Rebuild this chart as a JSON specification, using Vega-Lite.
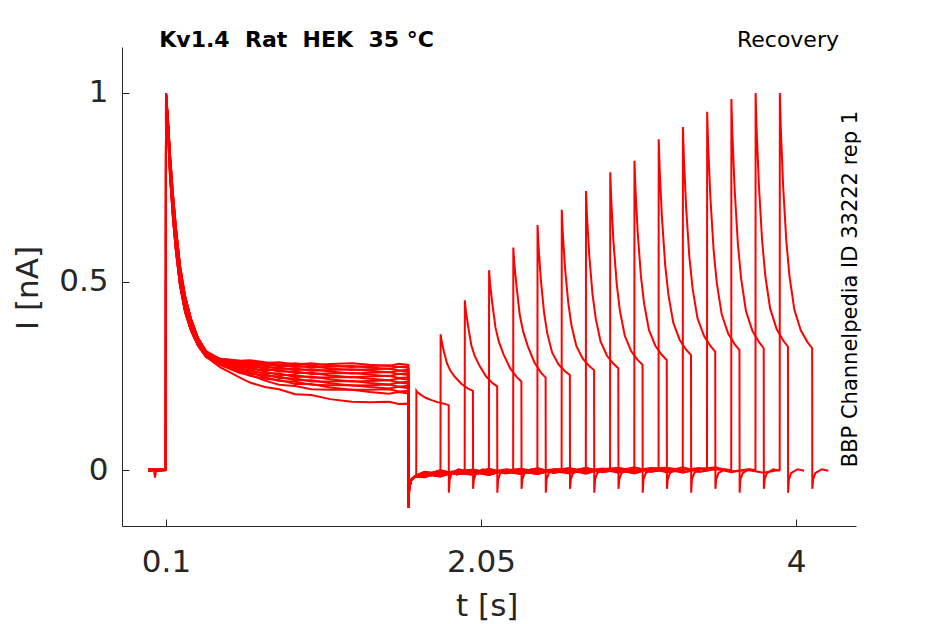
{
  "$schema": "https://vega.github.io/schema/vega-lite/v6.json",
  "width": 734,
  "height": 479,
  "autosize": {"type": "none"},
  "padding": {"left": 122, "top": 47, "right": 89, "bottom": 98},
  "background": "white",
  "config": {"view": {"stroke": null}, "font": "DejaVu Sans"},
  "layer": [
    {
      "data": {"values": [
        {"s":0,"t":-0.01,"i":0.002},{"s":0,"t":0.028,"i":0.0},{"s":0,"t":0.032,"i":-0.02},{"s":0,"t":0.036,"i":-0.002},{"s":0,"t":0.05,"i":0.001},{"s":0,"t":0.099,"i":0.0},
        {"s":0,"t":0.1,"i":1.0},{"s":0,"t":0.112,"i":0.9},{"s":0,"t":0.125,"i":0.78},{"s":0,"t":0.143,"i":0.67},{"s":0,"t":0.162,"i":0.58},{"s":0,"t":0.187,"i":0.49},{"s":0,"t":0.218,"i":0.42},{"s":0,"t":0.255,"i":0.37},{"s":0,"t":0.298,"i":0.33},{"s":0,"t":0.348,"i":0.3},
        {"s":0,"t":0.434,"i":0.273},{"s":0,"t":0.558,"i":0.245},{"s":0,"t":0.713,"i":0.22},{"s":0,"t":0.8,"i":0.214},{"s":0,"t":0.899,"i":0.201},{"s":0,"t":1.115,"i":0.188},{"s":0,"t":1.25,"i":0.181},{"s":0,"t":1.363,"i":0.18},{"s":0,"t":1.48,"i":0.181},{"s":0,"t":1.6,"i":0.176},
        {"s":0,"t":1.601,"i":-0.1},{"s":0,"t":1.606,"i":-0.045},{"s":0,"t":1.62,"i":-0.025},{"s":0,"t":1.64,"i":-0.017},
        {"s":0,"t":1.649,"i":-0.015},
        {"s":0,"t":1.65,"i":0.21},{"s":0,"t":1.656,"i":0.206},{"s":0,"t":1.67,"i":0.202},{"s":0,"t":1.69,"i":0.196},{"s":0,"t":1.71,"i":0.191},{"s":0,"t":1.74,"i":0.186},{"s":0,"t":1.78,"i":0.18},{"s":0,"t":1.82,"i":0.176},{"s":0,"t":1.85,"i":0.172},
        {"s":0,"t":1.851,"i":-0.06},{"s":0,"t":1.856,"i":-0.025},{"s":0,"t":1.87,"i":-0.008},{"s":0,"t":1.91,"i":0.002},{"s":0,"t":1.95,"i":-0.002},

        {"s":1,"t":-0.01,"i":-0.002},{"s":1,"t":0.028,"i":0.001},{"s":1,"t":0.032,"i":-0.018},{"s":1,"t":0.036,"i":0.0},{"s":1,"t":0.05,"i":-0.001},{"s":1,"t":0.099,"i":0.0},
        {"s":1,"t":0.1,"i":0.995},{"s":1,"t":0.112,"i":0.92},{"s":1,"t":0.125,"i":0.81},{"s":1,"t":0.143,"i":0.7},{"s":1,"t":0.162,"i":0.61},{"s":1,"t":0.187,"i":0.515},{"s":1,"t":0.218,"i":0.44},{"s":1,"t":0.255,"i":0.385},{"s":1,"t":0.298,"i":0.34},{"s":1,"t":0.348,"i":0.307},
        {"s":1,"t":0.434,"i":0.279},{"s":1,"t":0.558,"i":0.257},{"s":1,"t":0.713,"i":0.237},{"s":1,"t":0.8,"i":0.226},{"s":1,"t":0.899,"i":0.223},{"s":1,"t":1.115,"i":0.213},{"s":1,"t":1.25,"i":0.213},{"s":1,"t":1.363,"i":0.207},{"s":1,"t":1.48,"i":0.202},{"s":1,"t":1.6,"i":0.203},
        {"s":1,"t":1.601,"i":-0.075},{"s":1,"t":1.606,"i":-0.045},{"s":1,"t":1.62,"i":-0.025},{"s":1,"t":1.64,"i":-0.017},
        {"s":1,"t":1.7,"i":-0.005},
        {"s":1,"t":1.799,"i":-0.009},
        {"s":1,"t":1.8,"i":0.36},{"s":1,"t":1.806,"i":0.342},{"s":1,"t":1.82,"i":0.315},{"s":1,"t":1.84,"i":0.282},{"s":1,"t":1.86,"i":0.264},{"s":1,"t":1.89,"i":0.246},{"s":1,"t":1.93,"i":0.228},{"s":1,"t":1.97,"i":0.216},{"s":1,"t":2.0,"i":0.21},
        {"s":1,"t":2.001,"i":-0.05},{"s":1,"t":2.006,"i":-0.025},{"s":1,"t":2.02,"i":-0.008},{"s":1,"t":2.06,"i":0.002},{"s":1,"t":2.1,"i":-0.002},

        {"s":2,"t":-0.01,"i":0.0},{"s":2,"t":0.05,"i":0.002},{"s":2,"t":0.099,"i":0.0},
        {"s":2,"t":0.1,"i":1.0},{"s":2,"t":0.112,"i":0.93},{"s":2,"t":0.125,"i":0.835},{"s":2,"t":0.143,"i":0.73},{"s":2,"t":0.162,"i":0.64},{"s":2,"t":0.187,"i":0.54},{"s":2,"t":0.218,"i":0.46},{"s":2,"t":0.255,"i":0.4},{"s":2,"t":0.298,"i":0.35},{"s":2,"t":0.348,"i":0.315},
        {"s":2,"t":0.434,"i":0.281},{"s":2,"t":0.558,"i":0.26},{"s":2,"t":0.713,"i":0.242},{"s":2,"t":0.8,"i":0.239},{"s":2,"t":0.899,"i":0.228},{"s":2,"t":1.115,"i":0.219},{"s":2,"t":1.25,"i":0.213},{"s":2,"t":1.363,"i":0.213},{"s":2,"t":1.48,"i":0.214},{"s":2,"t":1.6,"i":0.21},
        {"s":2,"t":1.601,"i":-0.06},{"s":2,"t":1.606,"i":-0.045},{"s":2,"t":1.62,"i":-0.025},{"s":2,"t":1.64,"i":-0.017},
        {"s":2,"t":1.7,"i":-0.019},{"s":2,"t":1.8,"i":-0.004},{"s":2,"t":1.9,"i":-0.009},
        {"s":2,"t":1.949,"i":-0.006},
        {"s":2,"t":1.95,"i":0.45},{"s":2,"t":1.956,"i":0.423},{"s":2,"t":1.97,"i":0.382},{"s":2,"t":1.99,"i":0.331},{"s":2,"t":2.01,"i":0.304},{"s":2,"t":2.04,"i":0.277},{"s":2,"t":2.08,"i":0.249},{"s":2,"t":2.12,"i":0.231},{"s":2,"t":2.15,"i":0.222},
        {"s":2,"t":2.151,"i":-0.06},{"s":2,"t":2.156,"i":-0.025},{"s":2,"t":2.17,"i":-0.008},{"s":2,"t":2.21,"i":0.002},{"s":2,"t":2.25,"i":-0.002},

        {"s":3,"t":-0.01,"i":0.002},{"s":3,"t":0.05,"i":-0.001},{"s":3,"t":0.099,"i":0.0},
        {"s":3,"t":0.1,"i":0.995},{"s":3,"t":0.112,"i":0.92},{"s":3,"t":0.125,"i":0.81},{"s":3,"t":0.143,"i":0.7},{"s":3,"t":0.162,"i":0.61},{"s":3,"t":0.187,"i":0.515},{"s":3,"t":0.218,"i":0.44},{"s":3,"t":0.255,"i":0.385},{"s":3,"t":0.298,"i":0.34},{"s":3,"t":0.348,"i":0.307},
        {"s":3,"t":0.434,"i":0.282},{"s":3,"t":0.558,"i":0.263},{"s":3,"t":0.713,"i":0.246},{"s":3,"t":0.8,"i":0.236},{"s":3,"t":0.899,"i":0.234},{"s":3,"t":1.115,"i":0.225},{"s":3,"t":1.25,"i":0.225},{"s":3,"t":1.363,"i":0.22},{"s":3,"t":1.48,"i":0.216},{"s":3,"t":1.6,"i":0.217},
        {"s":3,"t":1.601,"i":-0.085},{"s":3,"t":1.606,"i":-0.045},{"s":3,"t":1.62,"i":-0.025},{"s":3,"t":1.64,"i":-0.017},
        {"s":3,"t":1.7,"i":-0.006},{"s":3,"t":1.8,"i":-0.014},{"s":3,"t":1.9,"i":-0.004},{"s":3,"t":2.0,"i":-0.007},
        {"s":3,"t":2.099,"i":-0.005},
        {"s":3,"t":2.1,"i":0.53},{"s":3,"t":2.106,"i":0.495},{"s":3,"t":2.12,"i":0.442},{"s":3,"t":2.14,"i":0.377},{"s":3,"t":2.16,"i":0.341},{"s":3,"t":2.19,"i":0.306},{"s":3,"t":2.23,"i":0.27},{"s":3,"t":2.27,"i":0.247},{"s":3,"t":2.3,"i":0.235},
        {"s":3,"t":2.301,"i":-0.05},{"s":3,"t":2.306,"i":-0.025},{"s":3,"t":2.32,"i":-0.008},{"s":3,"t":2.36,"i":0.002},{"s":3,"t":2.4,"i":-0.002},

        {"s":4,"t":-0.01,"i":-0.002},{"s":4,"t":0.05,"i":0.001},{"s":4,"t":0.099,"i":0.0},
        {"s":4,"t":0.1,"i":1.0},{"s":4,"t":0.112,"i":0.9},{"s":4,"t":0.125,"i":0.78},{"s":4,"t":0.143,"i":0.67},{"s":4,"t":0.162,"i":0.58},{"s":4,"t":0.187,"i":0.49},{"s":4,"t":0.218,"i":0.42},{"s":4,"t":0.255,"i":0.37},{"s":4,"t":0.298,"i":0.33},{"s":4,"t":0.348,"i":0.3},
        {"s":4,"t":0.434,"i":0.283},{"s":4,"t":0.558,"i":0.265},{"s":4,"t":0.713,"i":0.25},{"s":4,"t":0.8,"i":0.248},{"s":4,"t":0.899,"i":0.238},{"s":4,"t":1.115,"i":0.23},{"s":4,"t":1.25,"i":0.224},{"s":4,"t":1.363,"i":0.225},{"s":4,"t":1.48,"i":0.227},{"s":4,"t":1.6,"i":0.223},
        {"s":4,"t":1.601,"i":-0.1},{"s":4,"t":1.606,"i":-0.045},{"s":4,"t":1.62,"i":-0.025},{"s":4,"t":1.64,"i":-0.017},
        {"s":4,"t":1.7,"i":-0.013},{"s":4,"t":1.8,"i":-0.001},{"s":4,"t":1.9,"i":-0.011},{"s":4,"t":2.0,"i":-0.005},{"s":4,"t":2.1,"i":-0.013},{"s":4,"t":2.2,"i":0.0},
        {"s":4,"t":2.249,"i":-0.004},
        {"s":4,"t":2.25,"i":0.59},{"s":4,"t":2.256,"i":0.549},{"s":4,"t":2.27,"i":0.487},{"s":4,"t":2.29,"i":0.411},{"s":4,"t":2.31,"i":0.369},{"s":4,"t":2.34,"i":0.328},{"s":4,"t":2.38,"i":0.286},{"s":4,"t":2.42,"i":0.259},{"s":4,"t":2.45,"i":0.245},
        {"s":4,"t":2.451,"i":-0.06},{"s":4,"t":2.456,"i":-0.025},{"s":4,"t":2.47,"i":-0.008},{"s":4,"t":2.51,"i":0.002},{"s":4,"t":2.55,"i":-0.002},

        {"s":5,"t":-0.01,"i":0.0},{"s":5,"t":0.05,"i":0.002},{"s":5,"t":0.099,"i":0.0},
        {"s":5,"t":0.1,"i":0.995},{"s":5,"t":0.112,"i":0.92},{"s":5,"t":0.125,"i":0.81},{"s":5,"t":0.143,"i":0.7},{"s":5,"t":0.162,"i":0.61},{"s":5,"t":0.187,"i":0.515},{"s":5,"t":0.218,"i":0.44},{"s":5,"t":0.255,"i":0.385},{"s":5,"t":0.298,"i":0.34},{"s":5,"t":0.348,"i":0.307},
        {"s":5,"t":0.434,"i":0.285},{"s":5,"t":0.558,"i":0.268},{"s":5,"t":0.713,"i":0.254},{"s":5,"t":0.8,"i":0.244},{"s":5,"t":0.899,"i":0.243},{"s":5,"t":1.115,"i":0.235},{"s":5,"t":1.25,"i":0.236},{"s":5,"t":1.363,"i":0.231},{"s":5,"t":1.48,"i":0.227},{"s":5,"t":1.6,"i":0.229},
        {"s":5,"t":1.601,"i":-0.075},{"s":5,"t":1.606,"i":-0.045},{"s":5,"t":1.62,"i":-0.025},{"s":5,"t":1.64,"i":-0.017},
        {"s":5,"t":1.7,"i":-0.011},{"s":5,"t":1.8,"i":-0.017},{"s":5,"t":1.9,"i":-0.003},{"s":5,"t":2.0,"i":0.0},{"s":5,"t":2.1,"i":-0.007},{"s":5,"t":2.2,"i":-0.001},{"s":5,"t":2.3,"i":-0.01},
        {"s":5,"t":2.399,"i":-0.003},
        {"s":5,"t":2.4,"i":0.65},{"s":5,"t":2.406,"i":0.594},{"s":5,"t":2.42,"i":0.507},{"s":5,"t":2.44,"i":0.419},{"s":5,"t":2.46,"i":0.363},{"s":5,"t":2.49,"i":0.312},{"s":5,"t":2.53,"i":0.28},{"s":5,"t":2.57,"i":0.262},{"s":5,"t":2.6,"i":0.252},
        {"s":5,"t":2.601,"i":-0.05},{"s":5,"t":2.606,"i":-0.025},{"s":5,"t":2.62,"i":-0.008},{"s":5,"t":2.66,"i":0.002},{"s":5,"t":2.7,"i":-0.002},

        {"s":6,"t":-0.01,"i":0.002},{"s":6,"t":0.05,"i":-0.001},{"s":6,"t":0.099,"i":0.0},
        {"s":6,"t":0.1,"i":1.0},{"s":6,"t":0.112,"i":0.93},{"s":6,"t":0.125,"i":0.835},{"s":6,"t":0.143,"i":0.73},{"s":6,"t":0.162,"i":0.64},{"s":6,"t":0.187,"i":0.54},{"s":6,"t":0.218,"i":0.46},{"s":6,"t":0.255,"i":0.4},{"s":6,"t":0.298,"i":0.35},{"s":6,"t":0.348,"i":0.315},
        {"s":6,"t":0.434,"i":0.286},{"s":6,"t":0.558,"i":0.271},{"s":6,"t":0.713,"i":0.257},{"s":6,"t":0.8,"i":0.256},{"s":6,"t":0.899,"i":0.247},{"s":6,"t":1.115,"i":0.241},{"s":6,"t":1.25,"i":0.235},{"s":6,"t":1.363,"i":0.236},{"s":6,"t":1.48,"i":0.238},{"s":6,"t":1.6,"i":0.234},
        {"s":6,"t":1.601,"i":-0.06},{"s":6,"t":1.606,"i":-0.045},{"s":6,"t":1.62,"i":-0.025},{"s":6,"t":1.64,"i":-0.017},
        {"s":6,"t":1.7,"i":-0.006},{"s":6,"t":1.8,"i":-0.011},{"s":6,"t":1.9,"i":-0.004},{"s":6,"t":2.0,"i":-0.012},{"s":6,"t":2.1,"i":-0.005},{"s":6,"t":2.2,"i":0.001},{"s":6,"t":2.3,"i":-0.007},{"s":6,"t":2.4,"i":0.004},{"s":6,"t":2.5,"i":-0.008},
        {"s":6,"t":2.549,"i":-0.003},
        {"s":6,"t":2.55,"i":0.69},{"s":6,"t":2.556,"i":0.631},{"s":6,"t":2.57,"i":0.537},{"s":6,"t":2.59,"i":0.444},{"s":6,"t":2.61,"i":0.384},{"s":6,"t":2.64,"i":0.329},{"s":6,"t":2.68,"i":0.295},{"s":6,"t":2.72,"i":0.276},{"s":6,"t":2.75,"i":0.265},
        {"s":6,"t":2.751,"i":-0.06},{"s":6,"t":2.756,"i":-0.025},{"s":6,"t":2.77,"i":-0.008},{"s":6,"t":2.81,"i":0.002},{"s":6,"t":2.85,"i":-0.002},

        {"s":7,"t":-0.01,"i":-0.002},{"s":7,"t":0.05,"i":0.001},{"s":7,"t":0.099,"i":0.0},
        {"s":7,"t":0.1,"i":0.995},{"s":7,"t":0.112,"i":0.92},{"s":7,"t":0.125,"i":0.81},{"s":7,"t":0.143,"i":0.7},{"s":7,"t":0.162,"i":0.61},{"s":7,"t":0.187,"i":0.515},{"s":7,"t":0.218,"i":0.44},{"s":7,"t":0.255,"i":0.385},{"s":7,"t":0.298,"i":0.34},{"s":7,"t":0.348,"i":0.307},
        {"s":7,"t":0.434,"i":0.287},{"s":7,"t":0.558,"i":0.273},{"s":7,"t":0.713,"i":0.261},{"s":7,"t":0.8,"i":0.252},{"s":7,"t":0.899,"i":0.252},{"s":7,"t":1.115,"i":0.246},{"s":7,"t":1.25,"i":0.247},{"s":7,"t":1.363,"i":0.242},{"s":7,"t":1.48,"i":0.238},{"s":7,"t":1.6,"i":0.24},
        {"s":7,"t":1.601,"i":-0.085},{"s":7,"t":1.606,"i":-0.045},{"s":7,"t":1.62,"i":-0.025},{"s":7,"t":1.64,"i":-0.017},
        {"s":7,"t":1.7,"i":-0.018},{"s":7,"t":1.8,"i":-0.009},{"s":7,"t":1.9,"i":-0.002},{"s":7,"t":2.0,"i":-0.009},{"s":7,"t":2.1,"i":0.002},{"s":7,"t":2.2,"i":-0.009},{"s":7,"t":2.3,"i":-0.002},{"s":7,"t":2.4,"i":-0.01},{"s":7,"t":2.5,"i":0.001},{"s":7,"t":2.6,"i":0.002},
        {"s":7,"t":2.699,"i":-0.002},
        {"s":7,"t":2.7,"i":0.74},{"s":7,"t":2.706,"i":0.674},{"s":7,"t":2.72,"i":0.571},{"s":7,"t":2.74,"i":0.467},{"s":7,"t":2.76,"i":0.402},{"s":7,"t":2.79,"i":0.341},{"s":7,"t":2.83,"i":0.303},{"s":7,"t":2.87,"i":0.282},{"s":7,"t":2.9,"i":0.27},
        {"s":7,"t":2.901,"i":-0.05},{"s":7,"t":2.906,"i":-0.025},{"s":7,"t":2.92,"i":-0.008},{"s":7,"t":2.96,"i":0.002},{"s":7,"t":3.0,"i":-0.002},

        {"s":8,"t":-0.01,"i":0.0},{"s":8,"t":0.05,"i":0.002},{"s":8,"t":0.099,"i":0.0},
        {"s":8,"t":0.1,"i":1.0},{"s":8,"t":0.112,"i":0.9},{"s":8,"t":0.125,"i":0.78},{"s":8,"t":0.143,"i":0.67},{"s":8,"t":0.162,"i":0.58},{"s":8,"t":0.187,"i":0.49},{"s":8,"t":0.218,"i":0.42},{"s":8,"t":0.255,"i":0.37},{"s":8,"t":0.298,"i":0.33},{"s":8,"t":0.348,"i":0.3},
        {"s":8,"t":0.434,"i":0.288},{"s":8,"t":0.558,"i":0.276},{"s":8,"t":0.713,"i":0.265},{"s":8,"t":0.8,"i":0.265},{"s":8,"t":0.899,"i":0.257},{"s":8,"t":1.115,"i":0.251},{"s":8,"t":1.25,"i":0.246},{"s":8,"t":1.363,"i":0.248},{"s":8,"t":1.48,"i":0.25},{"s":8,"t":1.6,"i":0.246},
        {"s":8,"t":1.601,"i":-0.1},{"s":8,"t":1.606,"i":-0.045},{"s":8,"t":1.62,"i":-0.025},{"s":8,"t":1.64,"i":-0.017},
        {"s":8,"t":1.7,"i":-0.015},{"s":8,"t":1.8,"i":-0.002},{"s":8,"t":1.9,"i":-0.012},{"s":8,"t":2.0,"i":-0.004},{"s":8,"t":2.1,"i":-0.012},{"s":8,"t":2.2,"i":0.0},{"s":8,"t":2.3,"i":0.0},{"s":8,"t":2.4,"i":-0.009},{"s":8,"t":2.5,"i":-0.001},{"s":8,"t":2.6,"i":0.005},{"s":8,"t":2.7,"i":-0.005},{"s":8,"t":2.8,"i":-0.001},
        {"s":8,"t":2.849,"i":-0.001},
        {"s":8,"t":2.85,"i":0.79},{"s":8,"t":2.856,"i":0.719},{"s":8,"t":2.87,"i":0.606},{"s":8,"t":2.89,"i":0.494},{"s":8,"t":2.91,"i":0.422},{"s":8,"t":2.94,"i":0.356},{"s":8,"t":2.98,"i":0.315},{"s":8,"t":3.02,"i":0.292},{"s":8,"t":3.05,"i":0.279},
        {"s":8,"t":3.051,"i":-0.06},{"s":8,"t":3.056,"i":-0.025},{"s":8,"t":3.07,"i":-0.008},{"s":8,"t":3.11,"i":0.002},{"s":8,"t":3.15,"i":-0.002},

        {"s":9,"t":-0.01,"i":0.002},{"s":9,"t":0.05,"i":-0.001},{"s":9,"t":0.099,"i":0.0},
        {"s":9,"t":0.1,"i":0.995},{"s":9,"t":0.112,"i":0.92},{"s":9,"t":0.125,"i":0.81},{"s":9,"t":0.143,"i":0.7},{"s":9,"t":0.162,"i":0.61},{"s":9,"t":0.187,"i":0.515},{"s":9,"t":0.218,"i":0.44},{"s":9,"t":0.255,"i":0.385},{"s":9,"t":0.298,"i":0.34},{"s":9,"t":0.348,"i":0.307},
        {"s":9,"t":0.434,"i":0.29},{"s":9,"t":0.558,"i":0.278},{"s":9,"t":0.713,"i":0.269},{"s":9,"t":0.8,"i":0.261},{"s":9,"t":0.899,"i":0.261},{"s":9,"t":1.115,"i":0.256},{"s":9,"t":1.25,"i":0.257},{"s":9,"t":1.363,"i":0.253},{"s":9,"t":1.48,"i":0.249},{"s":9,"t":1.6,"i":0.252},
        {"s":9,"t":1.601,"i":-0.075},{"s":9,"t":1.606,"i":-0.045},{"s":9,"t":1.62,"i":-0.025},{"s":9,"t":1.64,"i":-0.017},
        {"s":9,"t":1.7,"i":-0.01},{"s":9,"t":1.8,"i":-0.016},{"s":9,"t":1.9,"i":-0.003},{"s":9,"t":2.0,"i":-0.002},{"s":9,"t":2.1,"i":-0.011},{"s":9,"t":2.2,"i":-0.002},{"s":9,"t":2.3,"i":0.003},{"s":9,"t":2.4,"i":-0.006},{"s":9,"t":2.5,"i":-0.003},{"s":9,"t":2.6,"i":-0.009},{"s":9,"t":2.7,"i":0.003},{"s":9,"t":2.8,"i":-0.003},{"s":9,"t":2.9,"i":0.005},
        {"s":9,"t":2.999,"i":-0.001},
        {"s":9,"t":3.0,"i":0.82},{"s":9,"t":3.006,"i":0.746},{"s":9,"t":3.02,"i":0.63},{"s":9,"t":3.04,"i":0.514},{"s":9,"t":3.06,"i":0.44},{"s":9,"t":3.09,"i":0.371},{"s":9,"t":3.13,"i":0.329},{"s":9,"t":3.17,"i":0.305},{"s":9,"t":3.2,"i":0.292},
        {"s":9,"t":3.201,"i":-0.05},{"s":9,"t":3.206,"i":-0.025},{"s":9,"t":3.22,"i":-0.008},{"s":9,"t":3.26,"i":0.002},{"s":9,"t":3.3,"i":-0.002},

        {"s":10,"t":-0.01,"i":-0.002},{"s":10,"t":0.05,"i":0.001},{"s":10,"t":0.099,"i":0.0},
        {"s":10,"t":0.1,"i":1.0},{"s":10,"t":0.112,"i":0.93},{"s":10,"t":0.125,"i":0.835},{"s":10,"t":0.143,"i":0.73},{"s":10,"t":0.162,"i":0.64},{"s":10,"t":0.187,"i":0.54},{"s":10,"t":0.218,"i":0.46},{"s":10,"t":0.255,"i":0.4},{"s":10,"t":0.298,"i":0.35},{"s":10,"t":0.348,"i":0.315},
        {"s":10,"t":0.434,"i":0.291},{"s":10,"t":0.558,"i":0.281},{"s":10,"t":0.713,"i":0.272},{"s":10,"t":0.8,"i":0.272},{"s":10,"t":0.899,"i":0.265},{"s":10,"t":1.115,"i":0.261},{"s":10,"t":1.25,"i":0.256},{"s":10,"t":1.363,"i":0.258},{"s":10,"t":1.48,"i":0.26},{"s":10,"t":1.6,"i":0.257},
        {"s":10,"t":1.601,"i":-0.06},{"s":10,"t":1.606,"i":-0.045},{"s":10,"t":1.62,"i":-0.025},{"s":10,"t":1.64,"i":-0.017},
        {"s":10,"t":1.7,"i":-0.008},{"s":10,"t":1.8,"i":-0.015},{"s":10,"t":1.9,"i":-0.005},{"s":10,"t":2.0,"i":0.001},{"s":10,"t":2.1,"i":-0.008},{"s":10,"t":2.2,"i":-0.004},{"s":10,"t":2.3,"i":-0.011},{"s":10,"t":2.4,"i":0.002},{"s":10,"t":2.5,"i":-0.005},{"s":10,"t":2.6,"i":0.004},{"s":10,"t":2.7,"i":-0.007},{"s":10,"t":2.8,"i":0.002},{"s":10,"t":2.9,"i":-0.002},{"s":10,"t":3.0,"i":0.007},{"s":10,"t":3.1,"i":-0.004},
        {"s":10,"t":3.149,"i":0.0},
        {"s":10,"t":3.15,"i":0.877},{"s":10,"t":3.156,"i":0.797},{"s":10,"t":3.17,"i":0.671},{"s":10,"t":3.19,"i":0.545},{"s":10,"t":3.21,"i":0.465},{"s":10,"t":3.24,"i":0.391},{"s":10,"t":3.28,"i":0.345},{"s":10,"t":3.32,"i":0.319},{"s":10,"t":3.35,"i":0.305},
        {"s":10,"t":3.351,"i":-0.06},{"s":10,"t":3.356,"i":-0.025},{"s":10,"t":3.37,"i":-0.008},{"s":10,"t":3.41,"i":0.002},{"s":10,"t":3.45,"i":-0.002},

        {"s":11,"t":-0.01,"i":0.0},{"s":11,"t":0.05,"i":0.002},{"s":11,"t":0.099,"i":0.0},
        {"s":11,"t":0.1,"i":0.995},{"s":11,"t":0.112,"i":0.92},{"s":11,"t":0.125,"i":0.81},{"s":11,"t":0.143,"i":0.7},{"s":11,"t":0.162,"i":0.61},{"s":11,"t":0.187,"i":0.515},{"s":11,"t":0.218,"i":0.44},{"s":11,"t":0.255,"i":0.385},{"s":11,"t":0.298,"i":0.34},{"s":11,"t":0.348,"i":0.307},
        {"s":11,"t":0.434,"i":0.292},{"s":11,"t":0.558,"i":0.283},{"s":11,"t":0.713,"i":0.275},{"s":11,"t":0.8,"i":0.268},{"s":11,"t":0.899,"i":0.269},{"s":11,"t":1.115,"i":0.265},{"s":11,"t":1.25,"i":0.267},{"s":11,"t":1.363,"i":0.263},{"s":11,"t":1.48,"i":0.259},{"s":11,"t":1.6,"i":0.261},
        {"s":11,"t":1.601,"i":-0.085},{"s":11,"t":1.606,"i":-0.045},{"s":11,"t":1.62,"i":-0.025},{"s":11,"t":1.64,"i":-0.017},
        {"s":11,"t":1.7,"i":-0.005},{"s":11,"t":1.8,"i":-0.012},{"s":11,"t":1.9,"i":-0.007},{"s":11,"t":2.0,"i":-0.013},{"s":11,"t":2.1,"i":0.0},{"s":11,"t":2.2,"i":-0.006},{"s":11,"t":2.3,"i":0.002},{"s":11,"t":2.4,"i":-0.008},{"s":11,"t":2.5,"i":0.0},{"s":11,"t":2.6,"i":-0.003},{"s":11,"t":2.7,"i":0.006},{"s":11,"t":2.8,"i":-0.005},{"s":11,"t":2.9,"i":0.0},{"s":11,"t":3.0,"i":-0.009},{"s":11,"t":3.1,"i":0.004},{"s":11,"t":3.2,"i":0.006},
        {"s":11,"t":3.299,"i":0.0},
        {"s":11,"t":3.3,"i":0.91},{"s":11,"t":3.306,"i":0.827},{"s":11,"t":3.32,"i":0.695},{"s":11,"t":3.34,"i":0.564},{"s":11,"t":3.36,"i":0.481},{"s":11,"t":3.39,"i":0.403},{"s":11,"t":3.43,"i":0.356},{"s":11,"t":3.47,"i":0.329},{"s":11,"t":3.5,"i":0.314},
        {"s":11,"t":3.501,"i":-0.05},{"s":11,"t":3.506,"i":-0.025},{"s":11,"t":3.52,"i":-0.008},{"s":11,"t":3.56,"i":0.002},{"s":11,"t":3.6,"i":-0.002},

        {"s":12,"t":-0.01,"i":0.002},{"s":12,"t":0.05,"i":-0.001},{"s":12,"t":0.099,"i":0.0},
        {"s":12,"t":0.1,"i":1.0},{"s":12,"t":0.112,"i":0.9},{"s":12,"t":0.125,"i":0.78},{"s":12,"t":0.143,"i":0.67},{"s":12,"t":0.162,"i":0.58},{"s":12,"t":0.187,"i":0.49},{"s":12,"t":0.218,"i":0.42},{"s":12,"t":0.255,"i":0.37},{"s":12,"t":0.298,"i":0.33},{"s":12,"t":0.348,"i":0.3},
        {"s":12,"t":0.434,"i":0.293},{"s":12,"t":0.558,"i":0.285},{"s":12,"t":0.713,"i":0.278},{"s":12,"t":0.8,"i":0.279},{"s":12,"t":0.899,"i":0.273},{"s":12,"t":1.115,"i":0.269},{"s":12,"t":1.25,"i":0.265},{"s":12,"t":1.363,"i":0.267},{"s":12,"t":1.48,"i":0.269},{"s":12,"t":1.6,"i":0.266},
        {"s":12,"t":1.601,"i":-0.1},{"s":12,"t":1.606,"i":-0.045},{"s":12,"t":1.62,"i":-0.025},{"s":12,"t":1.64,"i":-0.017},
        {"s":12,"t":1.7,"i":-0.019},{"s":12,"t":1.8,"i":-0.004},{"s":12,"t":1.9,"i":-0.009},{"s":12,"t":2.0,"i":0.0},{"s":12,"t":2.1,"i":-0.01},{"s":12,"t":2.2,"i":-0.001},{"s":12,"t":2.3,"i":-0.005},{"s":12,"t":2.4,"i":0.005},{"s":12,"t":2.5,"i":-0.007},{"s":12,"t":2.6,"i":-0.001},{"s":12,"t":2.7,"i":-0.01},{"s":12,"t":2.8,"i":0.003},{"s":12,"t":2.9,"i":0.005},{"s":12,"t":3.0,"i":-0.003},{"s":12,"t":3.1,"i":0.003},{"s":12,"t":3.2,"i":-0.006},{"s":12,"t":3.3,"i":0.0},{"s":12,"t":3.4,"i":0.005},
        {"s":12,"t":3.449,"i":0.0},
        {"s":12,"t":3.45,"i":0.95},{"s":12,"t":3.456,"i":0.862},{"s":12,"t":3.47,"i":0.723},{"s":12,"t":3.49,"i":0.583},{"s":12,"t":3.51,"i":0.495},{"s":12,"t":3.54,"i":0.413},{"s":12,"t":3.58,"i":0.362},{"s":12,"t":3.62,"i":0.334},{"s":12,"t":3.65,"i":0.318},
        {"s":12,"t":3.651,"i":-0.06},{"s":12,"t":3.656,"i":-0.025},{"s":12,"t":3.67,"i":-0.008},{"s":12,"t":3.71,"i":0.002},{"s":12,"t":3.75,"i":-0.002},

        {"s":13,"t":-0.01,"i":-0.002},{"s":13,"t":0.05,"i":0.001},{"s":13,"t":0.099,"i":0.0},
        {"s":13,"t":0.1,"i":0.995},{"s":13,"t":0.112,"i":0.92},{"s":13,"t":0.125,"i":0.81},{"s":13,"t":0.143,"i":0.7},{"s":13,"t":0.162,"i":0.61},{"s":13,"t":0.187,"i":0.515},{"s":13,"t":0.218,"i":0.44},{"s":13,"t":0.255,"i":0.385},{"s":13,"t":0.298,"i":0.34},{"s":13,"t":0.348,"i":0.307},
        {"s":13,"t":0.434,"i":0.294},{"s":13,"t":0.558,"i":0.287},{"s":13,"t":0.713,"i":0.281},{"s":13,"t":0.8,"i":0.275},{"s":13,"t":0.899,"i":0.277},{"s":13,"t":1.115,"i":0.274},{"s":13,"t":1.25,"i":0.276},{"s":13,"t":1.363,"i":0.272},{"s":13,"t":1.48,"i":0.268},{"s":13,"t":1.6,"i":0.271},
        {"s":13,"t":1.601,"i":-0.075},{"s":13,"t":1.606,"i":-0.045},{"s":13,"t":1.62,"i":-0.025},{"s":13,"t":1.64,"i":-0.017},
        {"s":13,"t":1.7,"i":-0.006},{"s":13,"t":1.8,"i":-0.014},{"s":13,"t":1.9,"i":-0.004},{"s":13,"t":2.0,"i":-0.007},{"s":13,"t":2.1,"i":0.003},{"s":13,"t":2.2,"i":-0.008},{"s":13,"t":2.3,"i":-0.003},{"s":13,"t":2.4,"i":-0.011},{"s":13,"t":2.5,"i":0.001},{"s":13,"t":2.6,"i":0.004},{"s":13,"t":2.7,"i":-0.004},{"s":13,"t":2.8,"i":0.002},{"s":13,"t":2.9,"i":-0.007},{"s":13,"t":3.0,"i":-0.001},{"s":13,"t":3.1,"i":0.005},{"s":13,"t":3.2,"i":-0.003},{"s":13,"t":3.3,"i":0.007},{"s":13,"t":3.4,"i":-0.005},{"s":13,"t":3.5,"i":0.002},
        {"s":13,"t":3.599,"i":0.0},
        {"s":13,"t":3.6,"i":0.984},{"s":13,"t":3.606,"i":0.892},{"s":13,"t":3.62,"i":0.746},{"s":13,"t":3.64,"i":0.601},{"s":13,"t":3.66,"i":0.508},{"s":13,"t":3.69,"i":0.422},{"s":13,"t":3.73,"i":0.369},{"s":13,"t":3.77,"i":0.34},{"s":13,"t":3.8,"i":0.323},
        {"s":13,"t":3.801,"i":-0.05},{"s":13,"t":3.806,"i":-0.025},{"s":13,"t":3.82,"i":-0.008},{"s":13,"t":3.86,"i":0.002},{"s":13,"t":3.9,"i":-0.002},

        {"s":14,"t":-0.01,"i":0.0},{"s":14,"t":0.05,"i":0.002},{"s":14,"t":0.099,"i":0.0},
        {"s":14,"t":0.1,"i":1.0},{"s":14,"t":0.112,"i":0.93},{"s":14,"t":0.125,"i":0.835},{"s":14,"t":0.143,"i":0.73},{"s":14,"t":0.162,"i":0.64},{"s":14,"t":0.187,"i":0.54},{"s":14,"t":0.218,"i":0.46},{"s":14,"t":0.255,"i":0.4},{"s":14,"t":0.298,"i":0.35},{"s":14,"t":0.348,"i":0.315},
        {"s":14,"t":0.434,"i":0.295},{"s":14,"t":0.558,"i":0.289},{"s":14,"t":0.713,"i":0.284},{"s":14,"t":0.8,"i":0.286},{"s":14,"t":0.899,"i":0.28},{"s":14,"t":1.115,"i":0.277},{"s":14,"t":1.25,"i":0.273},{"s":14,"t":1.363,"i":0.276},{"s":14,"t":1.48,"i":0.278},{"s":14,"t":1.6,"i":0.275},
        {"s":14,"t":1.601,"i":-0.06},{"s":14,"t":1.606,"i":-0.045},{"s":14,"t":1.62,"i":-0.025},{"s":14,"t":1.64,"i":-0.017},
        {"s":14,"t":1.7,"i":-0.013},{"s":14,"t":1.8,"i":-0.001},{"s":14,"t":1.9,"i":-0.011},{"s":14,"t":2.0,"i":-0.005},{"s":14,"t":2.1,"i":-0.013},{"s":14,"t":2.2,"i":0.0},{"s":14,"t":2.3,"i":0.002},{"s":14,"t":2.4,"i":-0.005},{"s":14,"t":2.5,"i":0.0},{"s":14,"t":2.6,"i":-0.008},{"s":14,"t":2.7,"i":-0.002},{"s":14,"t":2.8,"i":0.004},{"s":14,"t":2.9,"i":-0.004},{"s":14,"t":3.0,"i":0.006},{"s":14,"t":3.1,"i":-0.005},{"s":14,"t":3.2,"i":0.002},{"s":14,"t":3.3,"i":-0.007},{"s":14,"t":3.4,"i":0.004},{"s":14,"t":3.5,"i":0.004},{"s":14,"t":3.6,"i":-0.006},{"s":14,"t":3.7,"i":0.002},
        {"s":14,"t":3.749,"i":0.0},
        {"s":14,"t":3.75,"i":1.0},{"s":14,"t":3.756,"i":0.906},{"s":14,"t":3.77,"i":0.758},{"s":14,"t":3.79,"i":0.61},{"s":14,"t":3.81,"i":0.515},{"s":14,"t":3.84,"i":0.428},{"s":14,"t":3.88,"i":0.374},{"s":14,"t":3.92,"i":0.344},{"s":14,"t":3.95,"i":0.327},
        {"s":14,"t":3.951,"i":-0.06},{"s":14,"t":3.956,"i":-0.025},{"s":14,"t":3.97,"i":-0.008},{"s":14,"t":4.01,"i":0.002},{"s":14,"t":4.05,"i":-0.002},

        {"s":15,"t":-0.01,"i":0.002},{"s":15,"t":0.05,"i":-0.001},{"s":15,"t":0.099,"i":0.0},
        {"s":15,"t":0.1,"i":0.995},{"s":15,"t":0.112,"i":0.92},{"s":15,"t":0.125,"i":0.81},{"s":15,"t":0.143,"i":0.7},{"s":15,"t":0.162,"i":0.61},{"s":15,"t":0.187,"i":0.515},{"s":15,"t":0.218,"i":0.44},{"s":15,"t":0.255,"i":0.385},{"s":15,"t":0.298,"i":0.34},{"s":15,"t":0.348,"i":0.307},
        {"s":15,"t":0.434,"i":0.295},{"s":15,"t":0.558,"i":0.29},{"s":15,"t":0.713,"i":0.286},{"s":15,"t":0.8,"i":0.28},{"s":15,"t":0.899,"i":0.283},{"s":15,"t":1.115,"i":0.281},{"s":15,"t":1.25,"i":0.283},{"s":15,"t":1.363,"i":0.279},{"s":15,"t":1.48,"i":0.276},{"s":15,"t":1.6,"i":0.279},
        {"s":15,"t":1.601,"i":-0.085},{"s":15,"t":1.606,"i":-0.045},{"s":15,"t":1.62,"i":-0.025},{"s":15,"t":1.64,"i":-0.017},
        {"s":15,"t":1.7,"i":-0.011},{"s":15,"t":1.8,"i":-0.017},{"s":15,"t":1.9,"i":-0.003},{"s":15,"t":2.0,"i":0.0},{"s":15,"t":2.1,"i":-0.007},{"s":15,"t":2.2,"i":-0.001},{"s":15,"t":2.3,"i":-0.01},{"s":15,"t":2.4,"i":-0.003},{"s":15,"t":2.5,"i":0.002},{"s":15,"t":2.6,"i":-0.005},{"s":15,"t":2.7,"i":0.005},{"s":15,"t":2.8,"i":-0.006},{"s":15,"t":2.9,"i":0.001},{"s":15,"t":3.0,"i":-0.008},{"s":15,"t":3.1,"i":0.004},{"s":15,"t":3.2,"i":0.004},{"s":15,"t":3.3,"i":-0.006},{"s":15,"t":3.4,"i":0.002},{"s":15,"t":3.5,"i":0.007},{"s":15,"t":3.6,"i":-0.003},{"s":15,"t":3.7,"i":0.0},{"s":15,"t":3.8,"i":-0.007},
        {"s":15,"t":3.899,"i":0.0},
        {"s":15,"t":3.9,"i":1.0},{"s":15,"t":3.906,"i":0.905},{"s":15,"t":3.92,"i":0.756},{"s":15,"t":3.94,"i":0.607},{"s":15,"t":3.96,"i":0.513},{"s":15,"t":3.99,"i":0.425},{"s":15,"t":4.03,"i":0.37},{"s":15,"t":4.07,"i":0.34},{"s":15,"t":4.1,"i":0.323},
        {"s":15,"t":4.101,"i":-0.05},{"s":15,"t":4.106,"i":-0.025},{"s":15,"t":4.12,"i":-0.008},{"s":15,"t":4.16,"i":0.002},{"s":15,"t":4.2,"i":-0.002},

        {"s":0,"t":0.62,"i":0.232},{"s":0,"t":1.0,"i":0.199},{"s":0,"t":1.54,"i":0.175},
        {"s":1,"t":0.62,"i":0.252},{"s":1,"t":1.0,"i":0.214},{"s":1,"t":1.54,"i":0.207},
        {"s":2,"t":0.62,"i":0.25},{"s":2,"t":1.0,"i":0.228},{"s":2,"t":1.54,"i":0.208},
        {"s":3,"t":0.62,"i":0.259},{"s":3,"t":1.0,"i":0.226},{"s":3,"t":1.54,"i":0.221},
        {"s":4,"t":0.62,"i":0.256},{"s":4,"t":1.0,"i":0.238},{"s":4,"t":1.54,"i":0.221},
        {"s":5,"t":0.62,"i":0.265},{"s":5,"t":1.0,"i":0.235},{"s":5,"t":1.54,"i":0.232},
        {"s":6,"t":0.62,"i":0.262},{"s":6,"t":1.0,"i":0.248},{"s":6,"t":1.54,"i":0.232},
        {"s":7,"t":0.62,"i":0.271},{"s":7,"t":1.0,"i":0.245},{"s":7,"t":1.54,"i":0.243},
        {"s":8,"t":0.62,"i":0.269},{"s":8,"t":1.0,"i":0.258},{"s":8,"t":1.54,"i":0.244},
        {"s":9,"t":0.62,"i":0.277},{"s":9,"t":1.0,"i":0.255},{"s":9,"t":1.54,"i":0.255},
        {"s":10,"t":0.62,"i":0.274},{"s":10,"t":1.0,"i":0.267},{"s":10,"t":1.54,"i":0.255},
        {"s":11,"t":0.62,"i":0.283},{"s":11,"t":1.0,"i":0.263},{"s":11,"t":1.54,"i":0.264},
        {"s":12,"t":0.62,"i":0.279},{"s":12,"t":1.0,"i":0.275},{"s":12,"t":1.54,"i":0.264},
        {"s":13,"t":0.62,"i":0.288},{"s":13,"t":1.0,"i":0.272},{"s":13,"t":1.54,"i":0.274},
        {"s":14,"t":0.62,"i":0.284},{"s":14,"t":1.0,"i":0.283},{"s":14,"t":1.54,"i":0.273},
        {"s":15,"t":0.62,"i":0.291},{"s":15,"t":1.0,"i":0.278},{"s":15,"t":1.54,"i":0.282}
      ]},
      "mark": {"type": "line", "color": "#ff0000", "strokeWidth": 2},
      "encoding": {
        "x": {
          "field": "t",
          "type": "quantitative",
          "scale": {"domain": [-0.1724, 4.3714], "nice": false, "zero": false},
          "axis": {
            "title": "t [s]",
            "values": [0.1, 2.05, 4],
            "format": ".2~f",
            "grid": false,
            "tickSize": -7,
            "labelPadding": 28,
            "labelFlush": false,
            "labelFont": "DejaVu Sans",
            "labelFontSize": 31,
            "labelColor": "#262626",
            "titleFont": "DejaVu Sans",
            "titleFontSize": 31,
            "titleFontWeight": "normal",
            "titleColor": "#262626",
            "titleX": 364.7,
            "titleY": 89,
            "titleBaseline": "alphabetic",
            "titleAlign": "center",
            "domainColor": "#262626",
            "tickColor": "#262626"
          }
        },
        "y": {
          "field": "i",
          "type": "quantitative",
          "scale": {"domain": [-0.1485, 1.122], "nice": false, "zero": false},
          "axis": {
            "title": "I [nA]",
            "values": [0, 0.5, 1],
            "format": ".1~f",
            "grid": false,
            "tickSize": -7,
            "labelPadding": 21,
            "labelFlush": false,
            "labelFont": "DejaVu Sans",
            "labelFontSize": 31,
            "labelColor": "#262626",
            "titleFont": "DejaVu Sans",
            "titleFontSize": 31,
            "titleFontWeight": "normal",
            "titleColor": "#262626",
            "titleX": -84.7,
            "titleY": 240.5,
            "titleAngle": 270,
            "titleBaseline": "alphabetic",
            "titleAlign": "center",
            "domainColor": "#262626",
            "tickColor": "#262626"
          }
        },
        "detail": {"field": "s", "type": "nominal"}
      }
    },
    {
      "data": {"values": [{"label": "Kv1.4\u00a0 Rat\u00a0 HEK\u00a0 35 °C", "t": 0.0585, "i": 1.1207}]},
      "mark": {"type": "text", "align": "left", "baseline": "alphabetic", "font": "DejaVu Sans", "fontSize": 22, "fontWeight": "bold", "color": "black"},
      "encoding": {
        "x": {"field": "t", "type": "quantitative"},
        "y": {"field": "i", "type": "quantitative"},
        "text": {"field": "label"}
      }
    },
    {
      "data": {"values": [{"label": "Recovery", "t": 4.266, "i": 1.1207}]},
      "mark": {"type": "text", "align": "right", "baseline": "alphabetic", "font": "DejaVu Sans", "fontSize": 22, "color": "black"},
      "encoding": {
        "x": {"field": "t", "type": "quantitative"},
        "y": {"field": "i", "type": "quantitative"},
        "text": {"field": "label"}
      }
    },
    {
      "data": {"values": [{"label": "BBP Channelpedia ID 33222 rep 1", "t": 4.376, "i": 0.48}]},
      "mark": {"type": "text", "align": "center", "baseline": "alphabetic", "angle": 270, "font": "DejaVu Sans", "fontSize": 21, "color": "black"},
      "encoding": {
        "x": {"field": "t", "type": "quantitative"},
        "y": {"field": "i", "type": "quantitative"},
        "text": {"field": "label"}
      }
    }
  ]
}
